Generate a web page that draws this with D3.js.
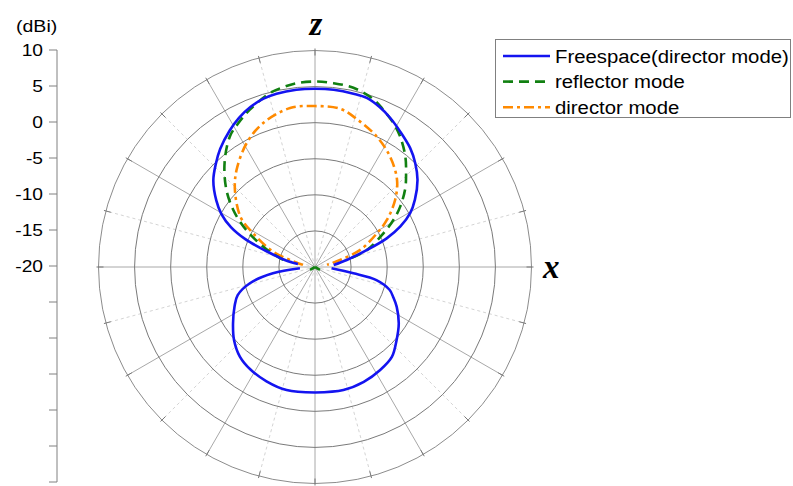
<!DOCTYPE html>
<html>
<head>
<meta charset="utf-8">
<script src="https://cdn.jsdelivr.net/npm/d3@7"></script>
<style>
  body { margin: 0; background: #fff; }
  text { font-family: "Liberation Sans", Arial, sans-serif; fill: #000; }
  .axisLetter { font-family: "Liberation Serif", "Times New Roman", serif; font-weight: bold; font-style: italic; }
</style>
</head>
<body>
<svg id="chart" width="793" height="486"></svg>
<script>
// gain pattern in the x-z plane, angle from +z (deg, clockwise toward +x), gain in dBi
// null = below -20 dBi, not drawn
const freeAngles = [-180, -167, -157, -148, -140, -132, -124.6, -116, -110, -104, -98.6, -95, -90,
                    -79.8, -76.9, -71.8, -68.2, -64.6, -60.5, -56, -49.6, -44, -38.7, -32, -27, -22, -17, -12.5, -6, 0,
                    6, 12.5, 17, 22, 27, 32, 38.7, 44, 49.6, 56, 60.5, 64.6, 68.2, 71.8, 77.5, 83.8, 90,
                    94.5, 99.3, 102, 107, 111, 116, 124, 132, 139.5, 147.7, 157, 167, 180];
const freeDbi = [-2.6, -2.5, -2.8, -3.2, -3.8, -4.9, -6.2, -7.6, -8.6, -10.7, -14.1, -17.9, null,
                 -17.6, -15.7, -12.8, -9.6, -7.1, -5.1, -3.5, -1.5, -0.2, 1.0, 2.3, 3.2, 3.9, 4.4, 4.6, 4.7, 4.7,
                 4.7, 4.6, 4.5, 3.9, 3.1, 2.2, 1.1, 0.0, -1.35, -3.3, -4.85, -6.9, -9.3, -12.4, -15.5, -17.4, null,
                 -17.7, -14.6, -11.3, -9.2, -8.4, -7.4, -6.0, -4.8, -3.6, -3.1, -2.7, -2.5, -2.6];

const reflAngles = [-130, -120, -90, -84, -77.5, -70, -64, -60, -55.1, -48.9, -41, -33.1, -28, -22.5, -14.5, -10, -5.7, 0,
                    5.7, 12.1, 18.6, 22.8, 28.6, 33.1, 39.2, 44.2, 48.9, 54.6, 59, 63.7, 71.8, 77.5, 84, 90, 120, 130];
const reflDbi = [null, -19.2, -20, null, -15.5, -12.9, -10.3, -8.4, -6.2, -3.7, -0.9, 1.6, 2.6, 3.6, 4.9, 5.3, 5.6, 5.7,
                 5.6, 5.4, 4.7, 3.9, 2.7, 1.6, -0.2, -1.9, -3.4, -5.5, -7.3, -9.4, -12.4, -15.5, null, -20, -19.2, null];

const dirAngles = [-90, -80, -70.3, -61.4, -56.2, -46.1, -38.9, -28.9, -19.8, -8.9, 0,
                   9, 15.8, 25.3, 34.2, 43.2, 50, 56.8, 61.4, 69.3, 74.4, 80, 90];
const dirDbi = [null, -18.3, -14.0, -10.2, -7.6, -4.6, -2.7, -0.4, 1.2, 2.3, 2.3,
                2.2, 1.3, 0.0, -1.5, -3.4, -5.5, -8.1, -10.2, -13.3, -16.4, -18.3, null];

const ringDbi = [-15, -10, -5, 0, 5, 10];
const spokeAngles = d3.range(0, 360, 15);
const scaleTicks = d3.range(10, -51, -5);
const labelledTicks = [10, 5, 0, -5, -10, -15, -20];

const seriesNames = ["Freespace(director mode)", "reflector mode", "director mode"];
const seriesColors = ["#1414f0", "#118011", "#ff8a00"];
const seriesDash = [null, "10,6", "10,4,3,4"];

const svg = d3.select("#chart");
const cx = 315, cy = 267;

let r = d3.scaleLinear().domain([-20, 10]).range([0, 216.5]);

let plot = svg.append("g").attr("transform", `translate(${cx},${cy})`);

let polarX = (a, rad) => rad * Math.sin(a * Math.PI / 180);
let polarY = (a, rad) => -rad * Math.cos(a * Math.PI / 180);

// spokes
plot.selectAll("line.spoke")
    .data(spokeAngles)
    .enter().append("line")
    .attr("class", "spoke")
    .attr("x1", 0).attr("y1", 0)
    .attr("x2", d => polarX(d, r(10)))
    .attr("y2", d => polarY(d, r(10)))
    .attr("stroke", d => d % 30 === 0 ? "#a8a8a8" : "#d4d4d4")
    .attr("stroke-dasharray", d => d % 30 === 0 ? null : "3,3")
    .attr("stroke-width", 1);

// rings
plot.selectAll("circle.ring")
    .data(ringDbi)
    .enter().append("circle")
    .attr("class", "ring")
    .attr("r", d => r(d))
    .attr("fill", "none")
    .attr("stroke", d => d === 10 ? "#8c8c8c" : "#7a7a7a")
    .attr("stroke-width", 1);

// small ticks on the outer ring
plot.selectAll("line.rimTick")
    .data(spokeAngles)
    .enter().append("line")
    .attr("x1", d => polarX(d, r(10) - 5))
    .attr("y1", d => polarY(d, r(10) - 5))
    .attr("x2", d => polarX(d, r(10) + 2))
    .attr("y2", d => polarY(d, r(10) + 2))
    .attr("stroke", "#777")
    .attr("stroke-width", 1);

let radial = d3.lineRadial()
    .defined(d => d[1] !== null)
    .angle(d => d[0] * Math.PI / 180)
    .radius(d => r(d[1]))
    .curve(d3.curveCatmullRom.alpha(0.5));

let series = [
    d3.zip(freeAngles, freeDbi),
    d3.zip(reflAngles, reflDbi),
    d3.zip(dirAngles, dirDbi)
];

// draw back to front: orange, green, blue
[2, 1, 0].forEach(i => {
    plot.append("path")
        .datum(series[i])
        .attr("d", radial)
        .attr("fill", "none")
        .attr("stroke", seriesColors[i])
        .attr("stroke-width", 2.6)
        .attr("stroke-dasharray", seriesDash[i])
        .attr("stroke-linejoin", "round");
});

// axis letters
svg.append("text").attr("class", "axisLetter")
    .attr("x", 316).attr("y", 35)
    .attr("text-anchor", "middle")
    .attr("font-size", 33)
    .text("z");
svg.append("text").attr("class", "axisLetter")
    .attr("x", 543).attr("y", 278)
    .attr("font-size", 33)
    .text("x");

// dBi scale on the left
let y = d3.scaleLinear().domain([10, -50]).range([50, 482]);

let scaleG = svg.append("g").attr("transform", "translate(57,0)");
scaleG.append("line")
    .attr("y1", y(10)).attr("y2", y(-50))
    .attr("stroke", "#808080");
scaleG.selectAll("line.tick")
    .data(scaleTicks)
    .enter().append("line")
    .attr("x1", -8).attr("x2", 0)
    .attr("y1", d => y(d)).attr("y2", d => y(d))
    .attr("stroke", "#808080");
scaleG.selectAll("text")
    .data(labelledTicks)
    .enter().append("text")
    .attr("text-anchor", "end")
    .attr("font-size", 16)
    .attr("transform", d => `translate(-14,${y(d) + 6}) scale(1.2,1)`)
    .text(d => d);

svg.append("text")
    .attr("font-size", 17)
    .attr("transform", "translate(16,32) scale(1.15,1)")
    .text("(dBi)");

// legend
let legend = svg.append("g");
legend.append("rect")
    .attr("x", 495.5).attr("y", 39.5)
    .attr("width", 295).attr("height", 78)
    .attr("fill", "#fff")
    .attr("stroke", "#808080");

let rows = legend.selectAll("g.row")
    .data(seriesNames)
    .enter().append("g")
    .attr("transform", (d, i) => `translate(0,${56 + i * 25.6})`);

rows.append("line")
    .attr("x1", 503).attr("x2", 550)
    .attr("stroke", (d, i) => seriesColors[i])
    .attr("stroke-width", 2.6)
    .attr("stroke-dasharray", (d, i) => seriesDash[i]);

rows.append("text")
    .attr("font-size", 18)
    .attr("transform", "translate(555,6.5) scale(1.13,1)")
    .text(d => d);
</script>
</body>
</html>
